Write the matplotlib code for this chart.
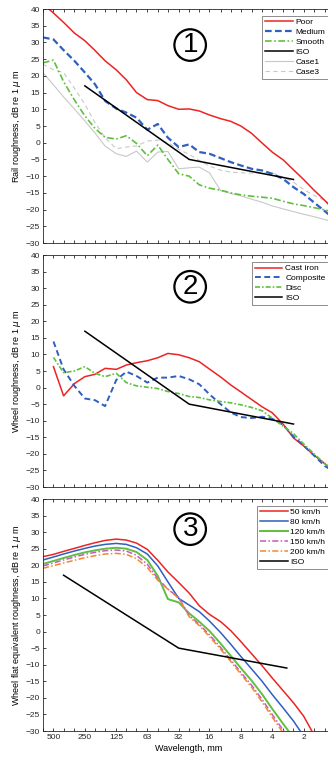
import matplotlib.pyplot as plt
from matplotlib.ticker import NullLocator

plt.rcParams['font.family'] = ['Liberation Sans', 'DejaVu Sans']
plt.rcParams['mathtext.fontset'] = 'dejavusans'

# one-third octave band centres, mm
wavelength = [630, 500, 400, 315, 250, 200, 160, 125, 100, 80, 63, 50, 40, 31.5,
              25, 20, 16, 12.5, 10, 8, 6.3, 5, 4, 3.15, 2.5, 2, 1.6, 1.25, 1]
tick_pos = [500, 250, 125, 63, 31.5, 16, 8, 4, 2]
tick_lab = ['500', '250', '125', '63', '32', '16', '8', '4', '2']

# ISO limit spectrum
iso_wl = [250, 25, 2.5]
iso_wl3 = [400, 31.5, 2.9]
iso_db = [17, -5, -11]

# panel 1 - rail roughness (from 630 mm)
rail_poor = [41.5, 38.8, 36.0, 32.8, 30.5, 27.6, 24.5, 21.8, 18.8, 15.0, 12.9, 12.6, 11.1, 10.0, 10.1,
             9.5, 8.3, 7.2, 6.4, 5.0, 2.8, -0.1, -2.8, -5.1, -8.1, -11.0, -14.1, -17.3, -20.5]
rail_medium = [31.5, 30.9, 27.7, 24.5, 21.0, 17.5, 12.5, 10.2, 9.0, 7.5, 3.9, 5.6, 1.5, -1.3, -0.5,
               -2.8, -3.3, -4.6, -5.8, -6.8, -7.8, -8.3, -9.3, -10.8, -13.3, -15.3, -17.8, -20.5, -23.0]
rail_smooth = [23.9, 24.7, 18.3, 12.8, 8.0, 4.3, 1.6, 1.1, 2.1, -0.2, -3.9, -0.7, -5.0, -9.3, -10.0,
               -12.6, -13.6, -14.2, -15.0, -15.6, -16.0, -16.3, -16.6, -17.5, -18.3, -18.8, -19.4, -20.1, -20.8]
rail_case1 = [20.9, 17.3, 13.7, 10.1, 6.5, 2.9, -1.0, -3.3, -4.1, -2.5, -5.8, -2.8, -2.6, -7.8, -7.5,
              -7.3, -9.0, -14.3, -15.2, -15.9, -16.9, -17.8, -18.9, -19.8, -20.6, -21.4, -22.1, -23.0, -23.8]
rail_case3 = [23.5, 21.8, 21.0, 16.3, 11.5, 6.0, 1.5, -1.8, -1.3, -1.0, 0.5, 0.8, 0.0, -2.0, -3.5,
              -5.3, -7.0, -8.2, -8.8, -9.0, -9.1, -9.0, -9.0, -10.3, -11.8, -14.0, -15.7, -17.3, -19.0]

# panel 2 - wheel roughness (from 500 mm)
wheel_cast = [6.3, -2.5, 1.2, 3.3, 4.0, 5.8, 5.5, 6.8, 7.5, 8.1, 9.0, 10.3, 9.9, 9.0,
              7.8, 5.6, 3.2, 0.8, -1.3, -3.6, -5.8, -7.6, -11.0, -15.2, -17.6, -20.3, -23.0, -25.5]
wheel_composite = [13.9, 5.5, 0.5, -3.3, -3.8, -5.6, 2.3, 4.8, 3.5, 1.5, 3.0, 3.0, 3.5, 2.5,
                   1.0, -2.0, -5.0, -7.5, -8.9, -9.2, -8.8, -9.4, -11.2, -14.8, -17.5, -20.4, -23.7, -25.5]
wheel_disc = [9.1, 4.5, 5.0, 6.3, 4.3, 3.3, 4.3, 1.5, 0.5, 0.1, -0.3, -1.2, -1.8, -2.7,
              -3.0, -3.7, -4.2, -4.6, -5.2, -6.0, -7.0, -9.2, -11.6, -13.9, -17.0, -19.9, -23.0, -25.0]

# panel 3 - wheel flat equivalent roughness (from 630 mm)
flat_50 = [22.6, 23.3, 24.2, 25.1, 26.0, 26.8, 27.5, 27.9, 27.6, 26.7, 24.8, 21.5, 18.0, 14.8,
           11.6, 7.8, 5.2, 3.0, 0.3, -3.0, -6.7, -10.3, -14.0, -17.8, -21.5, -25.5, -31.0]
flat_80 = [21.6, 22.5, 23.4, 24.3, 25.1, 25.8, 26.3, 26.6, 26.3, 25.3, 23.4, 19.8, 15.0, 10.0,
           8.0, 6.0, 3.2, -0.3, -3.8, -7.5, -11.3, -15.0, -19.0, -23.0, -27.0, -31.5]
flat_120 = [20.4, 21.3, 22.2, 23.1, 23.9, 24.5, 25.0, 25.3, 25.0, 24.0, 21.6, 16.8, 9.8, 8.8,
            5.5, 3.0, 0.2, -3.6, -7.3, -11.0, -14.8, -18.9, -23.3, -27.8, -32.0]
flat_150 = [19.8, 20.7, 21.6, 22.5, 23.3, 23.9, 24.4, 24.6, 24.3, 23.0, 20.3, 16.0, 12.8, 10.3,
            4.8, 2.2, -1.0, -4.8, -8.5, -12.3, -16.2, -20.5, -25.0, -29.7, -34.0]
flat_200 = [19.1, 19.9, 20.7, 21.5, 22.3, 22.9, 23.4, 23.6, 23.3, 22.0, 19.3, 15.5, 12.8, 10.0,
            4.5, 1.8, -1.5, -5.3, -9.0, -12.8, -16.8, -21.2, -25.8, -30.5]

RED = '#ec2424'
BLUE = '#2f5fbf'
GREEN = '#5fbf3f'
GREY = '#c8c8c8'
MAG = '#c45ac4'
ORANGE = '#f5862e'
DASHDOT = (4, 1.5, 1, 1.5)

fig = plt.figure(figsize=(3.28, 7.6), dpi=100)
left, width = 43 / 328, 292 / 328
ax1 = fig.add_axes([left, 517 / 760, width, 234 / 760])
ax2 = fig.add_axes([left, 273 / 760, width, 232 / 760])
ax3 = fig.add_axes([left, 29 / 760, width, 232 / 760])

xlabels = [tick_lab[tick_pos.index(w)] if w in tick_pos else '' for w in wavelength]


def style(ax, ylabel, num, ny, show_x, order=None):
    ax.set_xscale('log')
    ax.set_xlim(630, 1.0)
    ax.set_ylim(-30, 40)
    ax.set_xticks(wavelength, labels=xlabels if show_x else [''] * len(wavelength))
    ax.xaxis.set_minor_locator(NullLocator())
    ax.set_yticks(range(-30, 41, 5))
    ax.tick_params(direction='in', length=2.5, width=0.6, top=True, right=True,
                   labelsize=6, pad=2, colors='#262626')
    for s in ax.spines.values():
        s.set_color('#262626')
        s.set_linewidth(0.6)
    ax.set_ylabel(ylabel, fontsize=6.5, labelpad=2)
    # circled panel number
    ax.text(0.504, ny, num, transform=ax.transAxes, fontsize=20, ha='center', va='center',
            bbox=dict(boxstyle='circle,pad=0.1', fc='none', ec='black', lw=1.6))
    h, l = ax.get_legend_handles_labels()
    if order:
        h = [h[i] for i in order]
        l = [l[i] for i in order]
    leg = ax.legend(h, l, loc='upper right', fontsize=6, borderaxespad=0.8, handlelength=3.3,
                    handletextpad=0.35, labelspacing=0.25, borderpad=0.35, fancybox=False,
                    framealpha=1, edgecolor='0.55')
    leg.get_frame().set_linewidth(0.7)


# panel 1
ax1.plot(wavelength, rail_case1, color=GREY, lw=0.8, zorder=1, label='Case1')
ax1.plot(wavelength, rail_case3, color=GREY, lw=0.8, dashes=(4, 3), zorder=1, label='Case3')
ax1.plot(wavelength, rail_poor, color=RED, lw=1.1, label='Poor')
ax1.plot(wavelength, rail_medium, color=BLUE, lw=1.6, dashes=(3, 1.5), label='Medium')
ax1.plot(wavelength, rail_smooth, color=GREEN, lw=1.2, dashes=DASHDOT, label='Smooth')
ax1.plot(iso_wl, iso_db, color='black', lw=1.1, label='ISO')
style(ax1, 'Rail roughness, dB re 1 $\\mu$ m', '1', 0.846, False, order=[2, 3, 4, 5, 0, 1])

# panel 2
ax2.plot(wavelength[1:], wheel_cast, color=RED, lw=1.1, label='Cast iron')
ax2.plot(wavelength[1:], wheel_composite, color=BLUE, lw=1.4, dashes=(3, 1.8), label='Composite')
ax2.plot(wavelength[1:], wheel_disc, color=GREEN, lw=1.2, dashes=(3, 1.2, 1, 1.2), label='Disc')
ax2.plot(iso_wl, iso_db, color='black', lw=1.1, label='ISO')
style(ax2, 'Wheel roughness, dB re 1 $\\mu$ m', '2', 0.863, False)

# panel 3
ax3.plot(wavelength[:len(flat_50)], flat_50, color=RED, lw=1.1, label='50 km/h')
ax3.plot(wavelength[:len(flat_80)], flat_80, color=BLUE, lw=1.1, label='80 km/h')
ax3.plot(wavelength[:len(flat_120)], flat_120, color=GREEN, lw=1.4, label='120 km/h')
ax3.plot(wavelength[:len(flat_150)], flat_150, color=MAG, lw=1.1, dashes=DASHDOT, label='150 km/h')
ax3.plot(wavelength[:len(flat_200)], flat_200, color=ORANGE, lw=1.1, dashes=DASHDOT, label='200 km/h')
ax3.plot(iso_wl3, iso_db, color='black', lw=1.1, label='ISO')
style(ax3, 'Wheel flat equivalent roughness, dB re 1 $\\mu$ m', '3', 0.87, True)
ax3.set_xlabel('Wavelength, mm', fontsize=6.5, labelpad=2)

fig.savefig('out.png', dpi=100)
